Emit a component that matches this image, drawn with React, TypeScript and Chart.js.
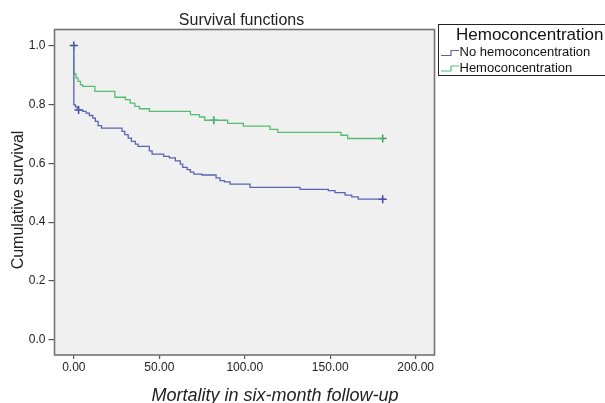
import React, { useEffect, useRef } from 'react';
import { Chart, registerables } from 'chart.js';

Chart.register(...registerables);

// ---- Data ----
const noHemoTimes = [0, 0, 1, 2, 2.8, 5.2, 7.2, 9.1, 11.1, 12.6, 14.2, 16.2, 28.2, 29.8, 31.8, 33.7, 36, 37.6, 44.2, 45.8, 52.6, 55.9, 59.4, 62.3, 63.7, 66.3, 68.2, 70.2, 75, 83.2, 85.5, 88.1, 91.4, 103.1, 132.3, 148.9, 152.8, 158.7, 162.6, 166.4, 180.7];
const noHemoSurv = [1.0, 0.798, 0.791, 0.785, 0.781, 0.776, 0.770, 0.762, 0.753, 0.742, 0.728, 0.719, 0.708, 0.697, 0.685, 0.674, 0.665, 0.657, 0.642, 0.631, 0.623, 0.618, 0.608, 0.597, 0.586, 0.578, 0.570, 0.563, 0.560, 0.550, 0.541, 0.537, 0.529, 0.518, 0.511, 0.507, 0.500, 0.492, 0.486, 0.478, 0.478];

const hemoTimes = [0, 0, 1.3, 2.5, 3.9, 5.2, 12.3, 24, 30.2, 33, 35.7, 38.4, 44.2, 68.2, 73.5, 76.6, 90, 99.2, 114.8, 119.3, 156.3, 160.2, 180.7];
const hemoSurv = [1.0, 0.903, 0.889, 0.878, 0.866, 0.861, 0.844, 0.824, 0.816, 0.804, 0.793, 0.785, 0.776, 0.765, 0.757, 0.746, 0.735, 0.726, 0.715, 0.705, 0.695, 0.684, 0.684];

const noHemoCensorTimes = [0, 2.8, 180.7];
const noHemoCensorSurv = [1.0, 0.781, 0.478];
const hemoCensorTimes = [81.9, 180.7];
const hemoCensorSurv = [0.746, 0.684];

const xTicks = [0, 50, 100, 150, 200];
const yTicks = [0, 0.2, 0.4, 0.6, 0.8, 1.0];

const seriesNames = ['No hemoconcentration', 'Hemoconcentration'];
const legendTitle = 'Hemoconcentration';
const chartTitle = 'Survival functions';
const xTitle = 'Mortality in six-month follow-up';
const yTitle = 'Cumulative survival';

const BLUE = '#5a62b3';
const GREEN = '#55bd72';
const BLUE_C = '#3b47a8';
const GREEN_C = '#3f9f5b';
const FONT = "'Liberation Sans', Arial, sans-serif";

const toPts = (xs: number[], ys: number[]) => xs.map((x, i) => ({ x, y: ys[i] }));

export default function App() {
  const ref = useRef<HTMLCanvasElement | null>(null);

  useEffect(() => {
    if (!ref.current) return;

    const decor = {
      id: 'decor',
      beforeDraw(chart: any) {
        const { ctx, chartArea: a } = chart;
        ctx.save();
        ctx.fillStyle = '#f0f0f0';
        ctx.fillRect(a.left, a.top, a.right - a.left, a.bottom - a.top);
        ctx.restore();
      },
      afterDraw(chart: any) {
        const { ctx, chartArea: a } = chart;
        ctx.save();
        // frame
        ctx.strokeStyle = '#737373';
        ctx.lineWidth = 1.6;
        ctx.strokeRect(a.left, a.top, a.right - a.left, a.bottom - a.top);

        // chart title
        ctx.fillStyle = '#222';
        ctx.font = `16px ${FONT}`;
        ctx.textAlign = 'center';
        ctx.textBaseline = 'alphabetic';
        ctx.fillText(chartTitle, 241.5, 25);

        // x title
        ctx.font = `italic 18px ${FONT}`;
        ctx.fillText(xTitle, 275, 401);

        // y title
        ctx.save();
        ctx.translate(22.5, 200);
        ctx.rotate(-Math.PI / 2);
        ctx.font = `16px ${FONT}`;
        ctx.fillText(yTitle, 0, 0);
        ctx.restore();

        // legend box
        ctx.strokeStyle = '#222';
        ctx.lineWidth = 1;
        ctx.strokeRect(438.5, 24.5, 200, 51);
        ctx.textAlign = 'left';
        ctx.font = `17px ${FONT}`;
        ctx.fillStyle = '#111';
        ctx.fillText(legendTitle, 456, 39.5);
        ctx.font = `13px ${FONT}`;
        const rows = [
          { y: 52.5, color: BLUE, label: seriesNames[0] },
          { y: 68, color: GREEN, label: seriesNames[1] },
        ];
        rows.forEach((r) => {
          ctx.strokeStyle = r.color;
          ctx.lineWidth = 1.2;
          ctx.beginPath();
          ctx.moveTo(441, r.y + 3);
          ctx.lineTo(451, r.y + 3);
          ctx.lineTo(451, r.y - 2);
          ctx.lineTo(459, r.y - 2);
          ctx.stroke();
          ctx.fillStyle = '#111';
          ctx.textBaseline = 'middle';
          ctx.fillText(r.label, 459.5, r.y);
        });
        ctx.restore();
      },
    };

    const chart = new Chart(ref.current, {
      type: 'line',
      data: {
        datasets: [
          {
            label: seriesNames[0],
            data: toPts(noHemoTimes, noHemoSurv),
            borderColor: BLUE,
            borderWidth: 1.3,
            stepped: true,
            pointRadius: 0,
            fill: false,
          },
          {
            label: seriesNames[1],
            data: toPts(hemoTimes, hemoSurv),
            borderColor: GREEN,
            borderWidth: 1.3,
            stepped: true,
            pointRadius: 0,
            fill: false,
          },
          {
            label: 'censor1',
            data: toPts(noHemoCensorTimes, noHemoCensorSurv),
            showLine: false,
            pointStyle: 'cross',
            pointRadius: 4,
            borderColor: BLUE_C,
            pointBorderWidth: 1.5,
          },
          {
            label: 'censor2',
            data: toPts(hemoCensorTimes, hemoCensorSurv),
            showLine: false,
            pointStyle: 'cross',
            pointRadius: 4,
            borderColor: GREEN_C,
            pointBorderWidth: 1.5,
          },
        ],
      },
      options: {
        animation: false,
        responsive: false,
        events: [],
        layout: { padding: { left: 0, top: 29.5, right: 170.5, bottom: 0 } },
        plugins: {
          legend: { display: false },
          tooltip: { enabled: false },
          title: { display: false },
        },
        scales: {
          x: {
            type: 'linear',
            min: -11.3,
            max: 211,
            afterBuildTicks: (s: any) => {
              s.ticks = xTicks.map((v) => ({ value: v }));
            },
            afterFit: (s: any) => {
              s.height = 48;
            },
            grid: {
              display: true,
              drawOnChartArea: false,
              drawTicks: true,
              tickLength: 4,
              color: '#555',
              lineWidth: 1.2,
            },
            border: { display: false },
            ticks: {
              padding: 1,
              color: '#222',
              font: { family: FONT, size: 12 },
              maxRotation: 0,
              autoSkip: false,
              callback: (v: any) => Number(v).toFixed(2),
            },
          },
          y: {
            type: 'linear',
            min: -0.051,
            max: 1.054,
            afterBuildTicks: (s: any) => {
              s.ticks = yTicks.map((v) => ({ value: v }));
            },
            afterFit: (s: any) => {
              s.width = 54.5;
            },
            grid: {
              display: true,
              drawOnChartArea: false,
              drawTicks: true,
              tickLength: 6,
              color: '#555',
              lineWidth: 1.2,
            },
            border: { display: false },
            ticks: {
              padding: 3,
              color: '#222',
              font: { family: FONT, size: 12 },
              autoSkip: false,
              callback: (v: any) => Number(v).toFixed(1),
            },
          },
        },
      },
      plugins: [decor],
    } as any);

    return () => chart.destroy();
  }, []);

  return (
    <div style={{ position: 'fixed', left: 0, top: 0, width: 605, height: 403, background: '#fff' }}>
      <canvas ref={ref} width={605} height={403} style={{ display: 'block', width: 605, height: 403 }} />
    </div>
  );
}
